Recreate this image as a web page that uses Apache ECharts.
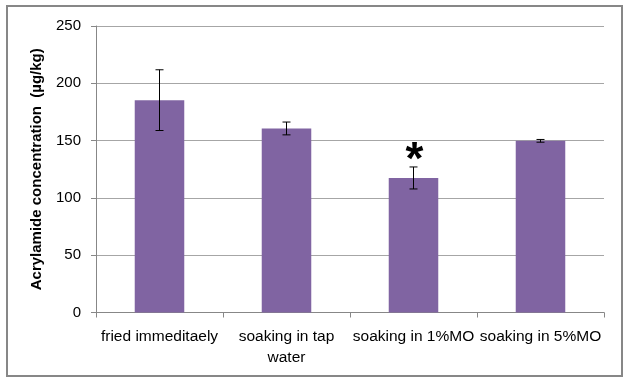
<!DOCTYPE html>
<html>
<head>
<meta charset="utf-8">
<script src="https://cdn.jsdelivr.net/npm/echarts@6/dist/echarts.min.js"></script>
<style>
html,body{margin:0;padding:0;background:#fff;}
#chart{width:630px;height:384px;}
</style>
</head>
<body>
<div id="chart"></div>
<script>
var categories = ['fried immeditaely', 'soaking in tap\nwater', 'soaking in 1%MO', 'soaking in 5%MO'];
var values = [185.3, 160.6, 117.4, 149.8];
var errors = [26.5, 5.6, 9.6, 1.2];
var marks = ['', '', '*', ''];
var yTicks = [0, 50, 100, 150, 200, 250];

var chart = echarts.init(document.getElementById('chart'), null, {renderer: 'canvas'});
var errData = values.map(function (v, i) { return [i, v, errors[i], marks[i]]; });

chart.setOption({
  animation: false,
  backgroundColor: '#ffffff',
  graphic: [{
    type: 'rect',
    shape: {x: 7, y: 6, width: 615, height: 370},
    style: {fill: 'none', stroke: '#878787', lineWidth: 2},
    silent: true,
    z: -1
  }],
  grid: {left: 96, right: 26, top: 26, bottom: 71.5, containLabel: false},
  xAxis: {
    type: 'category',
    data: categories,
    axisLine: {lineStyle: {color: '#878787', width: 1}},
    axisTick: {show: true, alignWithLabel: false, length: 5, lineStyle: {color: '#878787'}},
    axisLabel: {
      interval: 0, color: '#000', fontFamily: 'Liberation Sans, Arial, sans-serif',
      fontSize: 15.5, margin: 14, lineHeight: 21
    }
  },
  yAxis: {
    type: 'value',
    min: yTicks[0],
    max: yTicks[yTicks.length - 1],
    interval: 50,
    name: 'Acrylamide concentration  (µg/kg)',
    nameLocation: 'middle',
    nameGap: 52,
    nameTextStyle: {color: '#000', fontFamily: 'Liberation Sans, Arial, sans-serif', fontSize: 15, fontWeight: 'bold'},
    axisLine: {show: true, lineStyle: {color: '#878787', width: 1}},
    axisTick: {show: true, length: 5, lineStyle: {color: '#878787'}},
    splitLine: {show: true, lineStyle: {color: '#a6a6a6', width: 1}},
    axisLabel: {color: '#000', fontFamily: 'Liberation Sans, Arial, sans-serif', fontSize: 15, margin: 15}
  },
  series: [{
    type: 'bar',
    data: values,
    barWidth: '39%',
    itemStyle: {color: '#8064A2'},
    z: 2
  }, {
    type: 'custom',
    data: errData,
    z: 5,
    renderItem: function (params, api) {
      var x = api.value(0), v = api.value(1), e = api.value(2);
      var mark = marks[params.dataIndex];
      var top = api.coord([x, v + e]);
      var bot = api.coord([x, v - e]);
      var hw = 4;
      var children = [
        {type: 'line', shape: {x1: top[0], y1: top[1], x2: bot[0], y2: bot[1]}, style: {stroke: '#000', lineWidth: 1}},
        {type: 'line', shape: {x1: top[0] - hw, y1: top[1], x2: top[0] + hw, y2: top[1]}, style: {stroke: '#000', lineWidth: 1}},
        {type: 'line', shape: {x1: bot[0] - hw, y1: bot[1], x2: bot[0] + hw, y2: bot[1]}, style: {stroke: '#000', lineWidth: 1}}
      ];
      if (mark) {
        children.push({
          type: 'text',
          style: {
            text: mark, x: top[0] + 1, y: top[1] + 17,
            fill: '#000', font: 'bold 46px Liberation Sans, Arial, sans-serif',
            textAlign: 'center', textVerticalAlign: 'bottom'
          }
        });
      }
      return {type: 'group', children: children};
    }
  }]
});
</script>
</body>
</html>
